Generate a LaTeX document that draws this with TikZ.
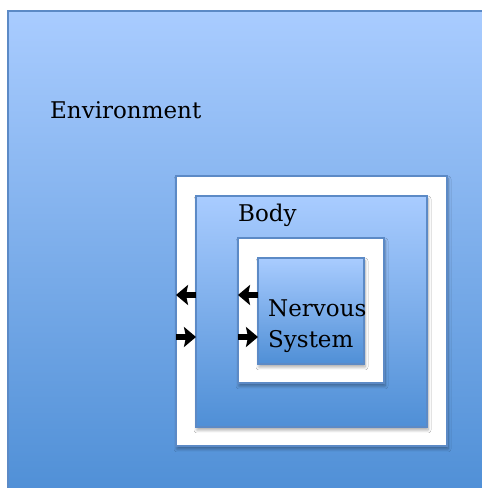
\documentclass[tikz,border=0pt]{standalone}
\usepackage{fontspec}
\setmainfont{DejaVu Serif}
\usetikzlibrary{arrows.meta,shadows.blur}
\definecolor{gtop}{RGB}{169,204,255}
\definecolor{gbot}{RGB}{79,143,214}
\definecolor{edge}{RGB}{92,138,198}
\tikzset{
  bluebox/.style={draw=edge, line width=1.4pt, top color=gtop, bottom color=gbot, inner sep=0pt, outer sep=0pt, anchor=north west},
  whitebox/.style={draw=edge, line width=1.4pt, fill=white, inner sep=0pt, outer sep=0pt, anchor=north west},
  shad/.style={blur shadow={shadow xshift=1pt, shadow yshift=-3pt, shadow blur steps=6, shadow opacity=35, shadow blur radius=3pt}},
  lbl/.style={inner sep=0pt, anchor=base west, font=\fontsize{23}{27}\selectfont},
  fat/.style={line width=6pt, -{Stealth[length=12pt,width=20pt,inset=2pt]}}
}
\begin{document}
\begin{tikzpicture}[x=1pt,y=1pt]
\useasboundingbox (0,0) rectangle (482,488);
\fill[white] (0,0) rectangle (482,488);
% environment
\node[bluebox, minimum width=490pt, minimum height=485pt] (env) at (8,477) {};
\node[lbl] (envt) at (50,369) {Environment};
% white ring 1
\node[whitebox, shad, minimum width=271pt, minimum height=270pt] (wb1) at (176,312) {};
% body
\node[bluebox, shad, minimum width=231pt, minimum height=231pt] (body) at (196,292) {};
\node[lbl] (bodyt) at (238,266) {Body};
% white ring 2
\node[whitebox, shad, minimum width=146pt, minimum height=145pt] (wb2) at (238,250) {};
% nervous system
\node[bluebox, shad, minimum width=106pt, minimum height=106pt] (ns) at (258,230) {};
\node[lbl] (nst1) at (268,171) {Nervous};
\node[lbl] (nst2) at (268,140) {System};
% arrows
\coordinate (o1s) at (body.west |- 0,193);
\coordinate (o1e) at (wb1.west |- 0,193);
\coordinate (o2s) at (wb1.west |- 0,151);
\coordinate (o2e) at (body.west |- 0,151);
\coordinate (i1s) at (ns.west |- 0,193);
\coordinate (i1e) at (wb2.west |- 0,193);
\coordinate (i2s) at (wb2.west |- 0,151);
\coordinate (i2e) at (ns.west |- 0,151);
\draw[fat] (o1s) -- (o1e);
\draw[fat] (o2s) -- (o2e);
\draw[fat] (i1s) -- (i1e);
\draw[fat] (i2s) -- (i2e);
\end{tikzpicture}
\end{document}
